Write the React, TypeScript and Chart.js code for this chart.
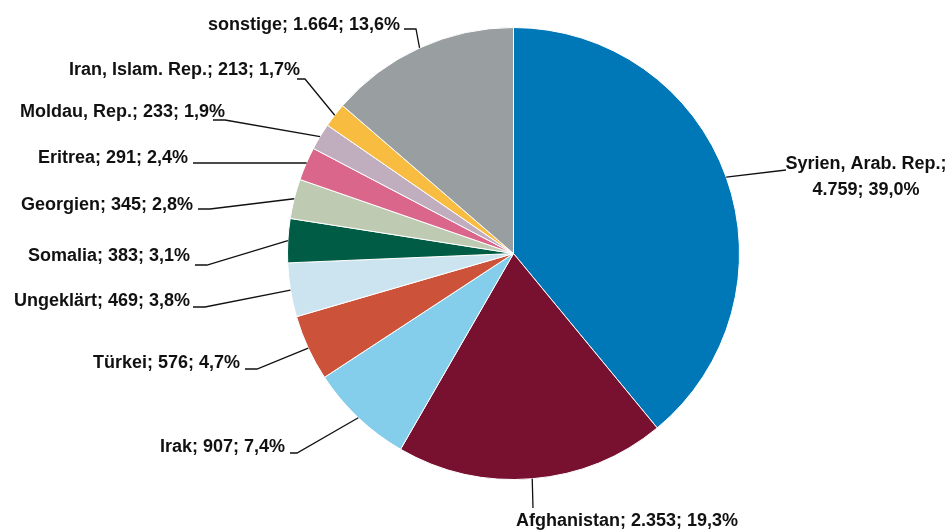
import React, { useEffect, useRef } from "react";
import { Chart, registerables } from "chart.js";

Chart.register(...registerables);

const categories = [
  "Syrien, Arab. Rep.",
  "Afghanistan",
  "Irak",
  "Türkei",
  "Ungeklärt",
  "Somalia",
  "Georgien",
  "Eritrea",
  "Moldau, Rep.",
  "Iran, Islam. Rep.",
  "sonstige",
];

const values = [4759, 2353, 907, 576, 469, 383, 345, 291, 233, 213, 1664];

const valueLabels = ["4.759", "2.353", "907", "576", "469", "383", "345", "291", "233", "213", "1.664"];
const percentLabels = ["39,0%", "19,3%", "7,4%", "4,7%", "3,8%", "3,1%", "2,8%", "2,4%", "1,9%", "1,7%", "13,6%"];

const colors = [
  "#0077B6",
  "#78102F",
  "#84CDEB",
  "#CD523A",
  "#CCE4F0",
  "#005C45",
  "#BECAB1",
  "#DA668B",
  "#C0ADBD",
  "#F8BC41",
  "#999EA1",
];

// Label layout (canvas px): elbow of leader, end of horizontal run, text anchor, alignment
type Layout = { elbow: [number, number]; end: [number, number]; text: [number, number]; align: CanvasTextAlign; lines?: number };
const labelLayout: Layout[] = [
  { elbow: [786, 170], end: [786, 170], text: [866, 169], align: "center", lines: 2 },
  { elbow: [533, 508], end: [533, 508], text: [516, 526], align: "left" },
  { elbow: [297, 453], end: [290, 453], text: [285, 452], align: "right" },
  { elbow: [257, 369], end: [245, 369], text: [240, 368], align: "right" },
  { elbow: [205, 307], end: [193, 307], text: [190, 306], align: "right" },
  { elbow: [207, 265], end: [195, 265], text: [190, 261], align: "right" },
  { elbow: [210, 209], end: [198, 209], text: [193, 210], align: "right" },
  { elbow: [306, 163], end: [193, 163], text: [188, 163], align: "right" },
  { elbow: [225, 120], end: [213, 120], text: [225, 117], align: "right" },
  { elbow: [305, 79], end: [297, 79], text: [300, 75], align: "right" },
  { elbow: [416, 29], end: [404, 29], text: [400, 30], align: "right" },
];

const labelPlugin = {
  id: "pieLabels",
  afterDatasetsDraw(chart: any) {
    const ctx: CanvasRenderingContext2D = chart.ctx;
    const meta = chart.getDatasetMeta(0);
    ctx.save();
    ctx.font = 'bold 18px "Liberation Sans", Arial, sans-serif';
    ctx.fillStyle = "#111111";
    ctx.strokeStyle = "#111111";
    ctx.lineWidth = 1.3;
    ctx.textBaseline = "alphabetic";
    meta.data.forEach((arc: any, i: number) => {
      const p = arc.getProps(["x", "y", "startAngle", "endAngle", "outerRadius"], true);
      const mid = (p.startAngle + p.endAngle) / 2;
      const ex = p.x + Math.cos(mid) * p.outerRadius;
      const ey = p.y + Math.sin(mid) * p.outerRadius;
      const L = labelLayout[i];
      ctx.beginPath();
      ctx.moveTo(ex, ey);
      ctx.lineTo(L.elbow[0], L.elbow[1]);
      ctx.lineTo(L.end[0], L.end[1]);
      ctx.stroke();
      ctx.textAlign = L.align;
      if (L.lines === 2) {
        ctx.fillText(`${categories[i]};`, L.text[0], L.text[1]);
        ctx.fillText(`${valueLabels[i]}; ${percentLabels[i]}`, L.text[0], L.text[1] + 26);
      } else {
        ctx.fillText(`${categories[i]}; ${valueLabels[i]}; ${percentLabels[i]}`, L.text[0], L.text[1]);
      }
    });
    ctx.restore();
  },
};

export default function App() {
  const ref = useRef<HTMLCanvasElement | null>(null);
  useEffect(() => {
    document.body.style.margin = "0";
    if (!ref.current) return;
    const chart = new Chart(ref.current, {
      type: "pie",
      data: {
        labels: categories,
        datasets: [
          {
            data: values,
            backgroundColor: colors,
            borderColor: "#ffffff",
            borderWidth: 1,
          },
        ],
      },
      options: {
        responsive: false,
        animation: false,
        layout: { padding: { left: 287, right: 209, top: 27, bottom: 51 } },
        plugins: {
          legend: { display: false },
          tooltip: { enabled: false },
        },
      },
      plugins: [labelPlugin],
    });
    return () => chart.destroy();
  }, []);
  return <canvas ref={ref} width={949} height={531} style={{ display: "block" }} />;
}
